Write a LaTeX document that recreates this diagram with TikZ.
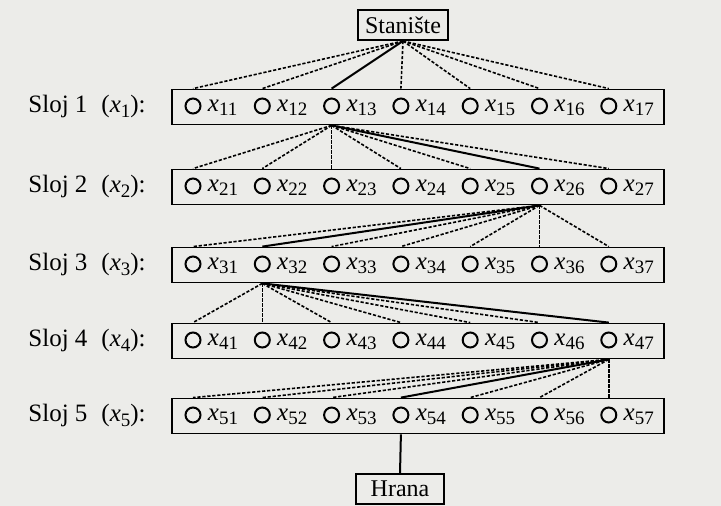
\documentclass[tikz,border=0pt]{standalone}
\usepackage{fontspec}
\setmainfont{Liberation Serif}
\usetikzlibrary{positioning}
\definecolor{papir}{RGB}{236,236,233}
\newcommand\xsub[1]{\textit{x}\raisebox{-2.3pt}{\fontsize{9.5}{10}\selectfont #1}}

\begin{document}
\begin{tikzpicture}[x=0.5pt, y=-0.5pt,
        % okvir sloja
        slojbox/.style={
                rectangle,
                draw,
                line width=0.9pt,
                minimum width=246pt,
                minimum height=17.5pt,
                inner sep=0pt
            },
        % Stanište i Hrana
        krajbox/.style={
                rectangle,
                draw,
                line width=0.9pt,
                minimum width=44pt,
                minimum height=14.5pt,
                font=\fontsize{12}{14}\selectfont
            },
        krug/.style={circle, draw, line width=1pt, minimum size=7.5pt, inner sep=0pt},
        oznaka/.style={anchor=base west, inner sep=0pt, font=\fontsize{12.5}{14}\selectfont},
        veza/.style={line width=0.8pt, dash pattern=on 1.6pt off 0.9pt},
        vezapuna/.style={line width=1pt}
    ]

    % pozadina
    \fill[papir] (0,0) rectangle (721,506);
    \useasboundingbox (0,0) rectangle (721,506);

    % VRH
    \node[krajbox] (stan) at (403,25) {Stanište};

    % SLOJEVI
    \foreach \k/\y in {1/107,2/187,3/265,4/341,5/416} {
        \node[slojbox] (s\k) at (418,\y) {};
        \node[oznaka] (lab\k) at (28,\y+6) {Sloj \k\hspace{7pt}(\xsub{\k}):};
        \foreach \j in {1,...,7} {
            \node[krug] (c\k\j) at ({193+69.3*(\j-1)},\y-1) {};
            \node[oznaka] (t\k\j) at ([xshift=3pt,yshift=-2.7pt]c\k\j.east) {\xsub{\k\j}};
        }
    }

    % DNO
    \node[krajbox] (hrana) at (400,489) {Hrana};

    % izvori veza
    \coordinate (iz1) at (stan.south);
    \coordinate (iz2) at (s1.south -| c13);
    \coordinate (iz3) at (s2.south -| c26);
    \coordinate (iz4) at (s3.south -| c32);
    \coordinate (iz5) at (s4.south -| c47);

    % veze
    \foreach \k/\puna in {1/3,2/6,3/2,4/7,5/4} {
        \foreach \j in {1,...,7} {
            \ifnum\j=\puna \def\stil{vezapuna}\else\def\stil{veza}\fi
            \draw[\stil] (iz\k) -- (s\k.north -| c\k\j);
        }
    }
    \draw[vezapuna] (s5.south -| c54) -- (hrana.north);

\end{tikzpicture}
\end{document}
